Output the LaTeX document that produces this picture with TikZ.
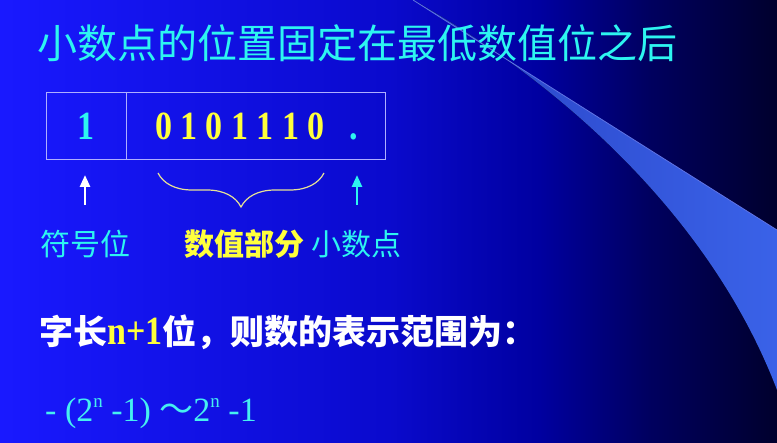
\documentclass[tikz,border=0pt]{standalone}
\usepackage{fontspec}
\setmainfont{Liberation Serif}
\newfontfamily\cjk{Noto Sans CJK SC}
\newfontfamily\bitfont[FakeStretch=0.85]{Liberation Serif}
\usetikzlibrary{arrows.meta,positioning,decorations.pathreplacing}
\definecolor{titlecyan}{RGB}{45,245,240}
\definecolor{numyellow}{RGB}{255,255,60}
\definecolor{rangecyan}{RGB}{70,240,240}
\definecolor{cellline}{RGB}{175,175,255}
\definecolor{bracecol}{RGB}{230,225,150}
\definecolor{bgleft}{RGB}{25,25,255}
\definecolor{bgmid}{RGB}{10,10,205}
\definecolor{bgdeep}{RGB}{0,0,160}
\definecolor{bgdark}{RGB}{0,0,95}
\definecolor{bgright}{RGB}{0,0,45}
\definecolor{bladeleft}{RGB}{40,65,195}
\definecolor{bladeright}{RGB}{58,98,232}
\definecolor{bladeedge}{RGB}{95,115,230}
\pgfdeclarehorizontalshading{slidebg}{100bp}{color(0bp)=(bgleft); color(25bp)=(bgleft);
  color(50bp)=(bgmid); color(59.7bp)=(bgdeep); color(66.8bp)=(bgdark); color(75bp)=(bgright); color(100bp)=(bgright)}
\newcommand\sups[1]{\raisebox{0.42em}{\fontsize{19}{20}\selectfont #1}}

\begin{document}
\begin{tikzpicture}[x=1pt, y=-1pt,
  titletext/.style={font=\cjk\fontsize{40}{46}\selectfont, text=titlecyan, inner sep=0pt},
  cell/.style={draw=cellline, line width=1pt, minimum height=67pt, inner sep=0pt, outer sep=0pt},
  bittext/.style={font=\bitfont\bfseries\fontsize{40}{46}\selectfont, inner sep=0pt},
  cjklabel/.style={font=\cjk\fontsize{30}{34}\selectfont, inner sep=0pt},
  uparrow/.style={-{Triangle[length=12pt,width=10pt]}, line width=2.6pt},
  bracestyle/.style={draw=bracecol, line width=1.2pt, decorate, decoration={brace, mirror, amplitude=34pt}}]
  % background and swoosh
  \useasboundingbox (0,0) rectangle (777,443);
  \fill[shading=slidebg] (0,0) rectangle (777,443);
  \fill[left color=bladeleft, right color=bladeright] (413,0) .. controls (520,68) and (650,150) .. (777,230)
    -- (777,390) .. controls (720,240) and (590,100) .. (413,0) -- cycle;
  \draw[bladeedge, line width=0.8pt] (413,0) .. controls (520,68) and (650,150) .. (777,230);
  % title
  \node[titletext, anchor=west] (title) at (37,43) {小数点的位置固定在最低数值位之后};
  % draw cells
  \node[cell, minimum width=80pt, anchor=north west] (signcell) at (46,93) {};
  \node[cell, minimum width=259pt, anchor=west] (valuecell) at (signcell.east) {};
  \node[bittext, text=titlecyan, anchor=base] (signbit) at (86,140) {1};
  \node[bittext, text=numyellow, anchor=base] (bits) at (240,140) {0 1 0 1 1 1 0};
  \node[bittext, text=titlecyan, anchor=base] (point) at (354,140) {.};
  % draw labels
  \node[cjklabel, text=titlecyan] (signlbl) at (85.5,244) {符号位};
  \node[cjklabel, text=numyellow, font=\cjk\bfseries\fontsize{30}{34}\selectfont] (valuelbl) at (244.5,244) {数值部分};
  \node[cjklabel, text=titlecyan] (pointlbl) at (356.5,244) {小数点};
  % draw arrows and brace
  \coordinate (signfoot) at (85,205);
  \coordinate (pointfoot) at (357,205);
  \draw[uparrow, white] (signfoot) -- ([yshift=-15pt]signfoot |- signcell.south);
  \draw[uparrow, titlecyan] (pointfoot) -- ([yshift=-15pt]pointfoot |- valuecell.south);
  \coordinate (braceL) at (158,173);
  \coordinate (braceR) at (324,173);
  \draw[bracestyle] (braceL) -- (braceR);
  % range text
  \node[anchor=base west, inner sep=0pt, text=white, font=\cjk\bfseries\fontsize{34}{40}\selectfont] (rangehead) at (39,345)
    {字长{\bitfont\fontsize{40}{40}\selectfont\color{numyellow}n+1}位，则数的表示范围为：};
  \node[anchor=base west, inner sep=0pt, text=rangecyan, font=\fontsize{34}{40}\selectfont] (range) at (45,422)
    {- (2\sups{n} -1) {\cjk ～}2\sups{n} -1};
\end{tikzpicture}
\end{document}
